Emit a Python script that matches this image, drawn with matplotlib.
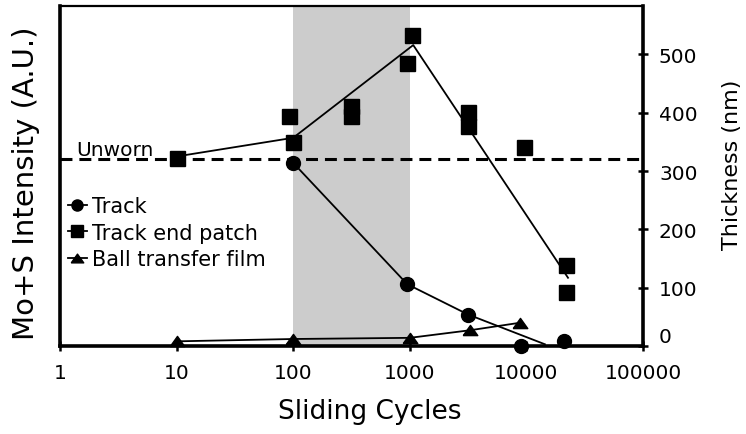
import matplotlib
matplotlib.use("Agg")
import matplotlib.pyplot as plt
from matplotlib.lines import Line2D
from matplotlib.transforms import ScaledTranslation
import numpy as np

plt.rcParams['font.family'] = ['DejaVu Sans']
plt.rcParams['lines.scale_dashes'] = False

# ---- data ----
track_x = [100, 950, 3160, 9000, 21000]
track_y = [314, 106, 54, 0, 8]
track_line_x = [100, 950, 3160, 14400]
track_line_y = [314, 106, 54, 3]

patch_x = [10, 92, 100, 313, 313, 940, 1040, 3140, 3140, 9500, 22000, 22000]
patch_y = [322, 395, 349, 412, 395, 486, 534, 401, 378, 341, 139, 92]
patch_line_x = [10, 100, 1070, 22750]
patch_line_y = [325, 357, 516, 117]

ball_x = [10, 100, 1000, 3280, 8900]
ball_y = [8, 12, 14, 27, 40]

unworn_level = 320
shade_range = [100, 1000]
xtick_vals = [1, 10, 100, 1000, 10000, 100000]
xtick_labels = ['1', '10', '100', '1000', '10000', '100000']
ytick_vals = [0, 100, 200, 300, 400, 500]
labels = ['Track', 'Track end patch', 'Ball transfer film']

W, H = 746, 435
fig = plt.figure(figsize=(W / 100, H / 100), dpi=100)
ax = fig.add_axes([60 / W, 1 - 347 / H, (643 - 60) / W, (347 - 7) / H])

ax.set_xscale('log')
ax.set_xlim(1, 1e5)
ax.set_ylim(0, 583)

ax.axvspan(shade_range[0], shade_range[1], color='#cccccc', zorder=0, lw=0)
ax.axhline(unworn_level, color='black', lw=2.2, dashes=(8.6, 5), zorder=2)
ax.text(1.37, 337, 'Unworn', fontsize=14.5, ha='left', va='center')

tri = [(-1, -0.7), (1, -0.7), (0, 0.7), (-1, -0.7)]

ax.plot(track_line_x, track_line_y, color='black', lw=1.3, zorder=3)
ax.plot(patch_line_x, patch_line_y, color='black', lw=1.3, zorder=3)
ax.plot(ball_x, ball_y, color='black', lw=1.3, zorder=3)

ax.plot(track_x, track_y, ls='none', marker='o', ms=10, color='black', zorder=4, clip_on=False)
ax.plot(patch_x, patch_y, ls='none', marker='s', ms=10.8, color='black', zorder=4, clip_on=False)
ax.plot(ball_x, ball_y, ls='none', marker=tri, ms=10.5, color='black', zorder=4, clip_on=False)

handles = [
    Line2D([], [], color='black', lw=1.3, marker='o', ms=8),
    Line2D([], [], color='black', lw=1.3, marker='s', ms=8),
    Line2D([], [], color='black', lw=1.3, marker=tri, ms=9),
]
leg = ax.legend(handles, labels, loc='upper left', bbox_to_anchor=(68 / W, 1 - 197 / H),
                bbox_transform=fig.transFigure, frameon=False, fontsize=15,
                handlelength=0.9, handletextpad=0.25, labelspacing=0.32, borderpad=0,
                borderaxespad=0)

# spines
for s in ['left', 'bottom', 'right']:
    ax.spines[s].set_linewidth(2.6)
ax.spines['top'].set_linewidth(1.6)

ax.set_xticks(xtick_vals)
ax.set_xticklabels(xtick_labels)
ax.xaxis.set_minor_locator(matplotlib.ticker.NullLocator())
ax.tick_params(axis='x', direction='inout', length=7, width=1.8, labelsize=14.5, pad=9)

ax.yaxis.tick_right()
ax.set_yticks(ytick_vals)
ax.set_yticklabels([str(v) for v in ytick_vals])
ax.tick_params(axis='y', direction='inout', length=7, width=1.8, labelsize=14.5, pad=8,
               left=False, right=True)
zero_lbl = ax.get_yticklabels()[0]
zero_lbl.set_transform(zero_lbl.get_transform() + ScaledTranslation(0, 8 / 72, fig.dpi_scale_trans))

fig.text(370 / W, 1 - 412 / H, 'Sliding Cycles', fontsize=19, ha='center', va='center')
fig.text(26 / W, 1 - 183 / H, 'Mo+S Intensity (A.U.)', fontsize=21, ha='center', va='center', rotation=90)
fig.text(732 / W, 1 - 165 / H, 'Thickness (nm)', fontsize=16, ha='center', va='center', rotation=90)

fig.savefig('out.png', dpi=100)
